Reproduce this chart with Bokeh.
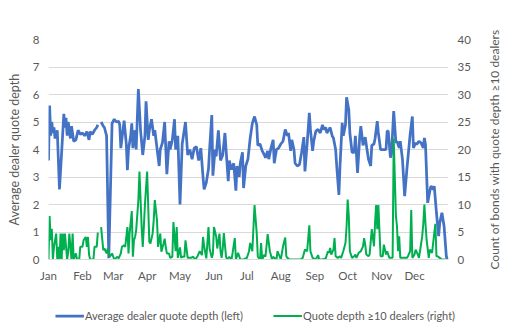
import numpy as np
import pandas as pd
from bokeh.plotting import figure
from bokeh.layouts import column, row
from bokeh.models import (Range1d, LinearAxis, FixedTicker, DatetimeTickFormatter,
                          Legend, LegendItem, ColumnDataSource)
from bokeh.embed import file_html
from bokeh.resources import INLINE

nan = float("nan")

# ---------------- data ----------------
year_start = "2019-01-01"
month_labels = ["Jan", "Feb", "Mar", "Apr", "May", "Jun",
                "Jul", "Aug", "Sep", "Oct", "Nov", "Dec"]
left_ticks = [0, 1, 2, 3, 4, 5, 6, 7, 8]
right_ticks = [0, 5, 10, 15, 20, 25, 30, 35, 40]
depth_label = "Average dealer quote depth (left)"
count_label = "Quote depth \u226510 dealers (right)"
left_title = "Average dealer quote depth"
right_title = "Count of bonds with quote depth \u226510 dealers"

# day of year (0 = 1 Jan) and average dealer quote depth (left axis)
depth_days = [0, 1, 2, 3, 4, 5, 6, 8, 10, 12, 14, 15, 16, 17, 18, 20, 21, 23, 25, 27,
              29, 31, 33, 35, 37, 38, 40, 42, 44, 45, 46, 48, 50, 51, 53, 55, 58, 60, 62, 64,
              65, 66, 69, 71, 72, 73, 75, 76, 77, 79, 80, 82, 84, 86, 88, 89, 91, 92, 94, 96,
              97, 99, 101, 102, 104, 106, 108, 110, 111, 113, 115, 116, 118, 120, 122, 125, 127, 129, 131, 133,
              135, 137, 139, 141, 142, 144, 146, 147, 149, 150, 152, 153, 155, 157, 159, 161, 164, 165, 167, 169,
              171, 172, 174, 175, 177, 178, 180, 182, 184, 186, 188, 190, 191, 193, 195, 197, 198, 200, 201, 203,
              205, 206, 208, 210, 212, 214, 216, 218, 219, 221, 222, 224, 225, 227, 229, 231, 233, 234, 236, 238,
              239, 241, 242, 244, 246, 248, 250, 251, 253, 254, 256, 257, 259, 260, 262, 263, 265, 266, 268, 269,
              271, 272, 274, 275, 277, 279, 280, 282, 284, 285, 287, 289, 291, 292, 294, 295, 297, 298, 300, 301,
              303, 304, 306, 308, 309, 310, 312, 313, 315, 317, 318, 320, 321, 323, 325, 327, 329, 330, 332, 333,
              335, 336, 338, 340, 342, 343, 344, 346, 348, 349, 351, 352, 354, 356, 357, 359, 361, 363, 364]
depth_values = [3.6, 5.6, 4.5, 5.0, 4.6, 4.8, 4.4, 4.7, 2.55, 3.9, 5.3, 4.8, 5.15, 4.5, 5.0, 4.4, 4.85, 4.3, 4.35, 4.7,
                4.55, 4.6, 4.5, 4.65, 4.35, 4.65, 4.55, 4.7, 4.8, 4.9, nan, 5.0, 4.85, 4.8, 4.5, 0.05, 4.95, 5.1, 5.0, 5.03,
                4.9, 4.05, 5.05, 4.2, 3.25, 4.0, 4.5, 4.95, 4.05, 4.7, 4.0, 6.2, 4.7, 3.8, 4.5, 5.75, 4.35, 4.7, 5.1, 4.5,
                4.7, 4.05, 3.4, 4.0, 4.25, 5.0, 3.1, 4.3, 4.0, 4.35, 5.1, 4.0, 4.5, 2.0, 4.2, 5.0, 3.8, 4.0, 3.65, 4.05,
                4.1, 3.6, 4.05, 3.0, 2.55, 2.8, 3.3, 4.0, 5.25, 3.05, 4.0, 3.75, 4.7, 3.6, 3.8, 4.6, 2.85, 3.6, 3.27, 3.5,
                2.5, 3.4, 3.0, 3.5, 3.9, 2.6, 3.4, 3.65, 4.4, 4.95, 5.2, 4.9, 4.15, 4.2, 3.95, 3.8, 3.7, 3.95, 3.65, 4.05,
                4.35, 3.5, 4.0, 4.05, 4.2, 4.3, 4.73, 4.5, 4.6, 3.95, 4.35, 4.0, 3.5, 3.4, 3.45, 3.9, 4.45, 3.2, 4.2, 5.33,
                4.73, 3.95, 4.3, 4.67, 4.73, 4.6, 4.9, 4.73, 4.8, 4.6, 4.73, 4.8, 4.48, 4.42, 4.0, 3.4, 2.35, 3.4, 4.97, 4.5,
                4.9, 5.9, 5.45, 4.6, 3.9, 3.9, 4.5, 3.15, 4.48, 4.85, 4.15, 4.45, 3.9, 3.64, 3.4, 4.15, 4.2, 4.4, 5.03, 4.6,
                4.0, 4.0, 4.0, 4.0, 4.67, 4.67, 3.7, 3.85, 5.4, 4.24, 4.3, 4.06, 4.3, 3.64, 2.3, 3.27, 4.12, 4.55, 5.2, 4.06,
                4.24, 4.18, 4.3, 4.24, 4.06, 4.42, 4.18, 2.06, 2.5, 2.67, 2.55, 2.67, 1.7, 0.85, 1.33, 1.7, 1.2, 0.12, 0.0]

# day of year and count of bonds with quote depth >= 10 dealers (right axis)
count_days = [0, 1, 2, 3, 4, 5, 7, 8, 9, 10, 11, 12, 13, 14, 15, 17, 18, 19, 21, 22,
              23, 25, 26, 28, 29, 31, 32, 34, 35, 36, 37, 38, 41, 42, 44, 45, 46, 48, 50, 51,
              53, 54, 56, 58, 60, 63, 64, 66, 67, 69, 70, 72, 73, 74, 76, 77, 78, 79, 80, 82,
              83, 85, 86, 87, 88, 90, 92, 93, 95, 96, 97, 99, 100, 102, 103, 105, 106, 107, 108, 110,
              111, 113, 114, 116, 117, 118, 120, 121, 122, 124, 125, 127, 130, 132, 134, 136, 138, 140, 141, 142,
              144, 146, 147, 149, 150, 151, 153, 154, 156, 157, 158, 159, 160, 162, 163, 165, 167, 168, 170, 171,
              173, 175, 178, 181, 183, 184, 186, 188, 190, 191, 193, 194, 195, 197, 198, 200, 202, 204, 205, 206,
              208, 209, 211, 212, 214, 216, 217, 218, 220, 225, 230, 232, 234, 236, 238, 239, 241, 244, 246, 247,
              250, 253, 255, 256, 257, 258, 260, 261, 262, 264, 266, 267, 269, 271, 272, 273, 274, 275, 277, 279,
              280, 281, 283, 285, 287, 288, 289, 290, 292, 293, 295, 297, 298, 299, 300, 301, 303, 305, 306, 308,
              309, 311, 313, 314, 315, 317, 318, 319, 320, 321, 323, 325, 327, 328, 330, 331, 332, 334, 335, 337,
              338, 339, 341, 342, 343, 344, 345, 347, 348, 350, 351, 353, 354, 355, 357, 359, 361, 364]
count_values = [0, 7.9, 3.5, 5.6, 0, 2.3, 4.7, 0, 2.3, 0, 4.7, 0, 4.7, 1.7, 4.7, 0, 1.4, 4.7, 0, 4.7,
                0, 1.1, 0, 0, 2.3, 2.3, 3.5, 4.1, 2.3, 4.1, 0.9, 0, 0, 2.3, 2.3, 4.9, nan, 5.9, 1.7, 2.0,
                1.1, 2.0, 0.5, 1.1, 0, 0.5, 0.2, 1.1, 2.3, 2.6, 2.3, 5.9, 1.1, 4.7, 8.8, 0.5, 3.5, 4.1, 5.3, 10.8,
                16.0, 5.9, 2.3, 5.9, 10.0, 16.0, 3.2, 2.9, 4.7, 7.1, 10.8, 7.1, 2.3, 4.7, 1.4, 2.9, 3.8, 2.3, 1.1, 1.1,
                0.3, 0.5, 6.8, 1.5, 5.9, 0.3, 2.2, 0.3, 0.5, 0.5, 3.5, 0.3, 0.3, 0.5, 0, 0.6, 1.5, 0.8, 4.1, 2.4,
                0.2, 5.9, 2.0, 0.3, 1.0, 5.9, 4.2, 2.0, 4.7, 1.4, 0.3, 2.0, 4.8, 0.5, 0, 0.5, 0, 1.2, 3.9, 0,
                1.2, 0, 0, 0.3, 1.5, 3.0, 1.5, 9.9, 4.8, 0.5, 0, 3.0, 0, 0.9, 0.5, 4.6, 1.5, 0, 0.5, 0.3,
                0, 1.5, 0.5, 0, 2.4, 4.0, 0.6, 0.3, 0, 0, 0, 0.3, 1.8, 1.5, 6.2, 1.5, 0.3, 0, 0.8, 0,
                0, 0.2, 1.5, 1.2, 2.1, 0.9, 1.8, 3.9, 0.6, 0.3, 0.6, 0.3, 1.5, 3.0, 6.0, 10.9, 7.9, 1.5, 0.3, 0.6,
                0.9, 0.3, 1.2, 1.5, 2.4, 3.9, 2.7, 0.9, 0.6, 0.9, 5.5, 2.4, 6.7, 9.9, 5.5, 9.9, 0.6, 0.6, 2.7, 0.9,
                1.5, 0.3, 0.3, 0.3, 22.0, 8.0, 6.0, 1.5, 4.2, 0.3, 0.3, 0.3, 0.3, 0.6, 1.5, 9.0, 0.3, 0.9, 1.8, 0.9,
                0.3, 1.5, 4.2, 6.5, 10.0, 6.5, 3.6, 0.3, 1.8, 1.2, 3.0, 6.5, 0.6, 0.6, 0.3, 0, 0, 0]

assert len(depth_days) == len(depth_values)
assert len(count_days) == len(count_values)

# ---------------- styling ----------------
FONT = "Lato"
TXT = "#595959"
BLUE = "#4472C4"
GREEN = "#00B050"
GRID = "#D9D9D9"

base = pd.Timestamp(year_start)


def to_dates(days):
    return (base + pd.to_timedelta(np.asarray(days, dtype=float), unit="D")).values


depth_src = ColumnDataSource(dict(x=to_dates(depth_days), y=np.asarray(depth_values, dtype=float)))
count_src = ColumnDataSource(dict(x=to_dates(count_days), y=np.asarray(count_values, dtype=float)))

p = figure(width=484, height=296, output_backend="svg", toolbar_location=None,
           x_axis_type="datetime",
           x_range=Range1d(base, base + pd.Timedelta(days=365)),
           y_range=Range1d(left_ticks[0], left_ticks[-1]),
           min_border_left=48, min_border_right=36, min_border_top=39, min_border_bottom=37)
p.extra_y_ranges = {"count": Range1d(right_ticks[0], right_ticks[-1])}
p.outline_line_color = None
p.background_fill_color = "white"
p.border_fill_color = "white"

p.line("x", "y", source=depth_src, color=BLUE, line_width=2.75)
p.line("x", "y", source=count_src, color=GREEN, line_width=2, y_range_name="count")

# x axis (months)
month_starts = pd.date_range(year_start, periods=len(month_labels), freq="MS")
month_ms = [(d - pd.Timestamp("1970-01-01")).total_seconds() * 1000.0 for d in month_starts]
xa = p.xaxis[0]
xa.ticker = FixedTicker(ticks=month_ms)
xa.formatter = DatetimeTickFormatter(days="%b", months="%b", years="%b", hours="%b",
                                     minutes="%b", seconds="%b", milliseconds="%b",
                                     minsec="%b", hourmin="%b")
xa.axis_line_color = GRID
xa.major_tick_line_color = None
xa.minor_tick_line_color = None
xa.major_tick_out = 0
xa.major_tick_in = 0
xa.major_label_standoff = 9
xa.major_label_text_font = FONT
xa.major_label_text_font_size = "11.5px"
xa.major_label_text_color = TXT

# left axis
ya = p.yaxis[0]
ya.ticker = FixedTicker(ticks=left_ticks)
ya.axis_line_color = None
ya.major_tick_line_color = None
ya.minor_tick_line_color = None
ya.major_tick_out = 0
ya.major_tick_in = 0
ya.major_label_standoff = 9
ya.major_label_text_font = FONT
ya.major_label_text_font_size = "11.5px"
ya.major_label_text_color = TXT
ya.axis_label = left_title
ya.axis_label_text_font = FONT
ya.axis_label_text_font_style = "normal"
ya.axis_label_text_font_size = "12.5px"
ya.axis_label_text_color = TXT
ya.axis_label_standoff = 8

# right axis (tick labels)
ra = LinearAxis(y_range_name="count", ticker=FixedTicker(ticks=right_ticks))
ra.axis_line_color = None
ra.major_tick_line_color = None
ra.minor_tick_line_color = None
ra.major_tick_out = 0
ra.major_tick_in = 0
ra.major_label_standoff = 9
ra.major_label_text_font = FONT
ra.major_label_text_font_size = "11.5px"
ra.major_label_text_color = TXT
p.add_layout(ra, "right")

p.xgrid.grid_line_color = None
p.ygrid.grid_line_color = GRID
p.ygrid.grid_line_width = 1

# narrow strip carrying the right-hand axis title (reads bottom-to-top)
t = figure(width=26, height=296, output_backend="svg", toolbar_location=None,
           x_range=Range1d(0, 1), y_range=Range1d(right_ticks[0], right_ticks[-1]),
           min_border_left=24, min_border_right=0, min_border_top=39, min_border_bottom=37)
t.xaxis.visible = False
t.grid.visible = False
t.outline_line_color = None
t.border_fill_color = "white"
ta = t.yaxis[0]
ta.ticker = FixedTicker(ticks=[])
ta.axis_line_color = None
ta.major_tick_line_color = None
ta.minor_tick_line_color = None
ta.major_tick_out = 0
ta.major_tick_in = 0
ta.major_label_text_font_size = "0px"
ta.axis_label = right_title
ta.axis_label_text_font = FONT
ta.axis_label_text_font_style = "normal"
ta.axis_label_text_font_size = "12px"
ta.axis_label_text_color = TXT
ta.axis_label_standoff = 9

# legend strip below the chart (proxy renderers carry only the line styles)
lg = figure(width=510, height=38, output_backend="svg", toolbar_location=None,
            x_range=Range1d(0, 1), y_range=Range1d(0, 1), min_border=0)
lg.axis.visible = False
lg.grid.visible = False
lg.outline_line_color = None
lg.border_fill_color = "white"
k_depth = lg.line(x=[nan, nan], y=[nan, nan], color=BLUE, line_width=2.75)
k_count = lg.line(x=[nan, nan], y=[nan, nan], color=GREEN, line_width=2)
legend = Legend(items=[LegendItem(label=depth_label, renderers=[k_depth]),
                       LegendItem(label=count_label, renderers=[k_count])],
                orientation="horizontal", location="center")
legend.glyph_width = 29
legend.glyph_height = 12
legend.label_standoff = 1
legend.spacing = 30
legend.padding = 2
legend.margin = 0
legend.border_line_color = None
legend.background_fill_alpha = 0
legend.label_text_font = FONT
legend.label_text_font_size = "11px"
legend.label_text_color = TXT
lg.add_layout(legend)

layout = column(row(p, t, spacing=0), lg, spacing=0)
open("out.html", "w").write(file_html(layout, INLINE))
